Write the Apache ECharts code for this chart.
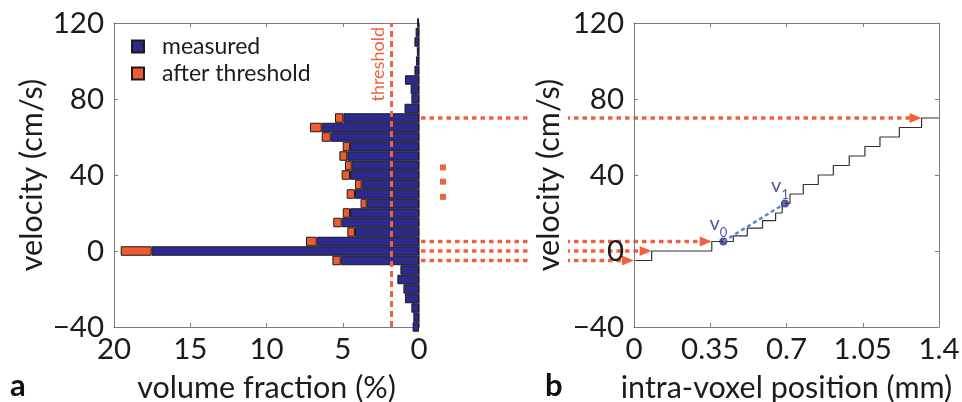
<!DOCTYPE html>
<html><head><meta charset="utf-8">
<script src="https://cdn.jsdelivr.net/npm/echarts@6/dist/echarts.min.js"></script>
<style>html,body{margin:0;padding:0;background:#fff}#c{width:962px;height:402px}</style>
</head><body><div id="c"></div>
<script>
// ---------- data ----------
const velocityBins = [-40,-35,-30,-25,-20,-15,-10,-5,0,5,10,15,20,25,30,35,40,45,50,55,60,65,70,75,80,85,90,95,100,105,110,115,120];
const measured = [0.42,0.37,0.5,0.92,1.02,1.42,1.22,5.13,17.53,6.71,4.2,5.07,4.52,3.43,4.2,3.76,4.52,4.41,4.7,4.52,5.79,6.38,4.96,0.95,0.5,0.55,0.92,0.3,0.2,0.14,0.3,0.22,0.12];
const afterThreshold = [0,0,0,0,0,0,0,0.55,2.03,0.7,0.5,0.55,0.48,0.4,0.54,0.44,0.55,0.44,0.52,0.48,0.59,0.77,0.55,0,0,0,0,0,0,0,0,0,0];
const thresholdLevel = 1.8;
const volumeTicks = [0, 20, 5];          // min, max, interval
const velocityTicks = [-40, 120, 40];
const positionTicks = [0, 1.4, 0.35];
const stepPosition = [0,0.081,0.357,0.456,0.52,0.59,0.65,0.68,0.716,0.777,0.846,0.915,0.988,1.06,1.129,1.218,1.32,1.4];
const stepVelocity = [-5,0,5,8,12,16,20,25,30,35,40,45,50,55,60,65,70,70];
const v0Point = [0.41, 5];
const v1Point = [0.693, 25];
const arrowVelocities = [70, 5, 0, -5];
const ellipsisVelocities = [44, 36.5, 28.5];

// ---------- style ----------
const FONT = 'Lato';
const TXT = '#1c1c1c';
const GREY = '#7c7c7c';
const NAVY = '#2c2b8d';
const ORANGE = '#ee5a32';
const DOT = '#f2613f';
const minus = v => String(v).replace('-', '\u2212');

function axisBase(extra) {
  return Object.assign({
    axisLine: {show: true, onZero: false, lineStyle: {color: GREY, width: 1}},
    axisTick: {show: true, inside: true, length: 4, lineStyle: {color: GREY}},
    splitLine: {show: false},
    axisLabel: {show: false}
  }, extra);
}
const tickLabel = (margin) => ({show: true, margin: margin, fontSize: 29.5, fontFamily: FONT, color: TXT, formatter: minus});
const nameStyle = {fontSize: 30.5, fontFamily: FONT, color: TXT};

const chart = echarts.init(document.getElementById('c'));
const option = {
  animation: false,
  backgroundColor: '#fff',
  textStyle: {fontFamily: FONT},
  grid: [
    {left: 114, right: 543, top: 23, bottom: 75, outerBoundsMode: 'none', containLabel: false},
    {left: 634, right: 23, top: 23, bottom: 75, outerBoundsMode: 'none', containLabel: false}
  ],
  legend: {
    orient: 'vertical', left: 126, top: 30, itemWidth: 12, itemHeight: 12, itemGap: 4, icon: 'rect',
    textStyle: {fontSize: 23, fontFamily: FONT, color: TXT, padding: [0, 0, 0, 13]},
    data: ['measured', 'after threshold']
  },
  xAxis: [
    axisBase({gridIndex: 0, type: 'value', position: 'bottom', inverse: true, min: volumeTicks[0], max: volumeTicks[1], interval: volumeTicks[2],
      axisLabel: tickLabel(7), name: 'volume fraction (%)', nameLocation: 'middle', nameGap: 46, nameTextStyle: nameStyle}),
    axisBase({gridIndex: 0, type: 'value', position: 'top', inverse: true, min: volumeTicks[0], max: volumeTicks[1], interval: volumeTicks[2]}),
    axisBase({gridIndex: 1, type: 'value', position: 'bottom', min: positionTicks[0], max: positionTicks[1], interval: positionTicks[2],
      axisLabel: tickLabel(7), name: 'intra-voxel position (mm)', nameLocation: 'middle', nameGap: 46, nameTextStyle: nameStyle}),
    axisBase({gridIndex: 1, type: 'value', position: 'top', min: positionTicks[0], max: positionTicks[1], interval: positionTicks[2]})
  ],
  yAxis: [
    {gridIndex: 0, type: 'category', data: velocityBins, boundaryGap: false, position: 'left', show: false},
    axisBase({gridIndex: 0, type: 'value', position: 'left', min: velocityTicks[0], max: velocityTicks[1], interval: velocityTicks[2],
      axisLabel: tickLabel(10), name: 'velocity (cm/s)', nameLocation: 'middle', nameGap: 66, nameRotate: 90, nameTextStyle: nameStyle}),
    axisBase({gridIndex: 0, type: 'value', position: 'right', min: velocityTicks[0], max: velocityTicks[1], interval: velocityTicks[2]}),
    axisBase({gridIndex: 1, type: 'value', position: 'left', min: velocityTicks[0], max: velocityTicks[1], interval: velocityTicks[2], z: 10,
      axisLabel: tickLabel(10), name: 'velocity (cm/s)', nameLocation: 'middle', nameGap: 66, nameRotate: 90,
      nameTextStyle: Object.assign({backgroundColor: '#fff', padding: [3, 0, 3, 0]}, nameStyle)}),
    axisBase({gridIndex: 1, type: 'value', position: 'right', min: velocityTicks[0], max: velocityTicks[1], interval: velocityTicks[2]})
  ],
  series: [
    {
      name: 'measured', type: 'bar', xAxisIndex: 0, yAxisIndex: 0, stack: 'hist', barCategoryGap: '0%',
      data: measured,
      itemStyle: {color: NAVY, borderColor: '#1a1a1a', borderWidth: 1},
      markLine: {
        silent: true, symbol: 'none', animation: false,
        lineStyle: {color: DOT, width: 3, type: [6, 4]},
        label: {show: true, formatter: 'threshold', position: 'insideEndTop', color: DOT, fontSize: 18, fontFamily: FONT, distance: 4},
        data: [{xAxis: thresholdLevel}]
      }
    },
    {
      name: 'after threshold', type: 'bar', xAxisIndex: 0, yAxisIndex: 0, stack: 'hist', barCategoryGap: '0%',
      data: afterThreshold.map(v => v > 0 ? v : null),
      itemStyle: {color: ORANGE, borderColor: '#1a1a1a', borderWidth: 1}
    },
    {
      name: 'steps', type: 'line', xAxisIndex: 2, yAxisIndex: 3, step: 'end', symbol: 'none',
      data: stepPosition.map((x, i) => [x, stepVelocity[i]]),
      lineStyle: {color: '#333', width: 1.2}
    },
    {
      name: 'v0-v1', type: 'line', xAxisIndex: 2, yAxisIndex: 3, symbol: 'none',
      data: [v0Point, v1Point],
      lineStyle: {color: '#5f80d8', width: 2.5, type: [4, 3]}
    },
    {
      name: 'v points', type: 'scatter', xAxisIndex: 2, yAxisIndex: 3, symbolSize: 8,
      itemStyle: {color: NAVY},
      label: {
        show: true, position: 'left', distance: 0, offset: [8, -15],
        rich: {
          v: {fontSize: 20, fontFamily: FONT, color: NAVY, verticalAlign: 'bottom', padding: [0, 0, 5, 0]},
          s: {fontSize: 13, fontFamily: FONT, color: NAVY, verticalAlign: 'bottom'}
        }
      },
      data: [
        {value: v0Point, label: {formatter: '{v|v}{s|0}'}},
        {value: v1Point, label: {formatter: '{v|v}{s|1}'}}
      ]
    }
  ]
};
chart.setOption(option);

// ---------- connecting dotted arrows (positions from the axes' own scales) ----------
const graphics = [];
arrowVelocities.forEach(v => {
  const a = chart.convertToPixel({xAxisIndex: 0, yAxisIndex: 1}, [volumeTicks[0], v]);
  const endX = stepPosition[stepVelocity.indexOf(v)];
  const b = chart.convertToPixel({xAxisIndex: 2, yAxisIndex: 3}, [endX, v]);
  const y = a[1];
  graphics.push({
    type: 'line', z: 5, silent: true,
    shape: {x1: a[0] + 2, y1: y, x2: b[0] - 10, y2: y},
    style: {stroke: DOT, lineWidth: 3.5, lineDash: [4.5, 4]}
  });
  graphics.push({
    type: 'polygon', z: 5, silent: true,
    shape: {points: [[b[0], y], [b[0] - 12, y - 5], [b[0] - 12, y + 5]]},
    style: {fill: DOT}
  });
});
ellipsisVelocities.forEach(v => {
  const a = chart.convertToPixel({xAxisIndex: 0, yAxisIndex: 1}, [volumeTicks[0], v]);
  graphics.push({type: 'rect', z: 5, silent: true, shape: {x: a[0] + 21, y: a[1] - 3, width: 6, height: 6}, style: {fill: DOT}});
});
graphics.push({type: 'text', left: 10, top: 370, style: {text: 'a', font: 'bold 31px ' + FONT, fill: '#111'}});
graphics.push({type: 'text', left: 545, top: 370, style: {text: 'b', font: 'bold 31px ' + FONT, fill: '#111'}});
chart.setOption({graphic: graphics});
</script>
</body></html>
